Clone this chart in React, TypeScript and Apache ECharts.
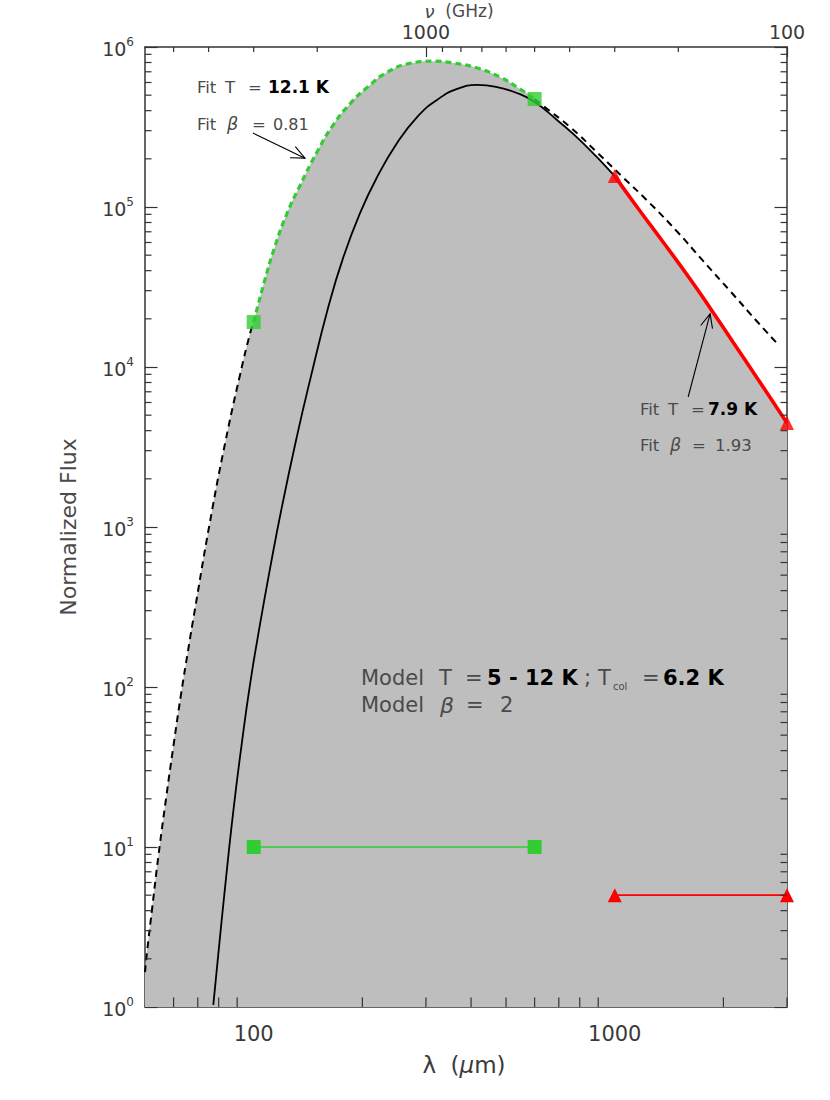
import React, { useEffect, useRef } from 'react';
import * as echarts from 'echarts';

const FONT = '"DejaVu Sans", "Liberation Sans", sans-serif';
const TXT = '#3a3a3a';
const NTXT = '#4a4a4a';

// axis ranges
const X_MIN = 50;
const X_MAX = 3000;
const Y_MIN = 1;
const Y_MAX = 1e6;
const NU_MIN = 100;
const NU_MAX = 6000;

// curves: [wavelength (um), normalized flux]
const fitLeftCurve: number[][] = [
  [50, 1.65], [50.6, 2.16], [52.3, 4.09], [54.5, 8.9], [57.2, 20.2], [60.0, 43.5],
  [62.9, 89.7], [65.8, 169], [68.8, 309], [75.7, 1082], [83.3, 3325], [91.7, 8979],
  [97.7, 16200], [100, 19100],
];
const fitGreenCurve: number[][] = [
  [100, 19100], [106.8, 33500], [114.6, 57100], [123.7, 91100], [134.4, 136200],
  [149.8, 221000], [165.9, 325000], [184.9, 442000], [206.1, 558000], [234, 695000],
  [271, 790000], [314, 815000], [357, 794000], [416, 739000], [481, 649000],
  [536, 562000], [600, 473000],
];
const fitRightCurve: number[][] = [
  [600, 473000], [629, 434000], [752, 316000], [894, 219000], [1055, 152900],
  [1253, 105200], [1488, 70300], [1757, 46000], [2087, 29850], [2479, 19250],
  [2834, 13820],
];
const modelCurve: number[][] = [
  [77.3, 1.03], [79.8, 2.14], [83.3, 5.57], [87.8, 16.7], [92.7, 44.5], [97.7, 104],
  [104.1, 246], [111, 551], [119.6, 1322], [131.6, 3646], [143.3, 8306], [161, 23800],
  [176.8, 47900], [197, 91500], [219.6, 153600], [249.5, 251000], [283.5, 365000],
  [322, 467000], [366, 547000], [416, 579000], [472, 562000], [536, 516000],
  [600, 453000], [692, 350000], [817, 251000], [1000, 156000],
];
const redFitCurve: number[][] = [
  [1000, 156000], [1153, 100000], [1361, 60400], [1617, 35500], [1837, 23400],
  [2127, 14300], [2479, 8540], [3000, 4467],
];
const greenPoints: number[][] = [[100, 19100], [600, 473000]];
const redPoints: number[][] = [[1000, 156000], [3000, 4467]];
const greenRange: number[][] = [[100, 10], [600, 10]];
const redRange: number[][] = [[1000, 5], [3000, 5]];
// arrows: [tail lambda, tail flux, tip lambda, tip flux]
const arrows: number[][] = [
  [99.5, 290000, 138.7, 202000],
  [1597, 6494, 1837, 21500],
];

// tick values
const lamMinor = [60, 70, 80, 90, 200, 300, 400, 500, 600, 700, 800, 900, 2000, 3000];
const nuMinor = [200, 300, 400, 500, 600, 700, 800, 900, 2000, 3000, 4000, 5000];
const mantissas = [2, 3, 4, 5, 6, 7, 8, 9];
const decades = [1, 10, 100, 1000, 10000, 100000];

export default function App() {
  const ref = useRef<HTMLDivElement>(null);
  useEffect(() => {
    document.body.style.margin = '0';
    if (!ref.current) return;
    const chart = echarts.init(ref.current, undefined, { renderer: 'svg' });

    const fluxMinor: number[] = [];
    decades.forEach((d) => mantissas.forEach((m) => fluxMinor.push(m * d)));

    const envelope = [
      ...fitLeftCurve,
      ...fitGreenCurve.slice(1),
      ...modelCurve.filter((p) => p[0] > 600 && p[0] < 1000),
      ...redFitCurve,
    ];

    const tickStyle = { stroke: '#333', lineWidth: 1.2 };
    const mkTick = (edge: string, len: number) => (params: any, api: any) => {
      let p: number[];
      let q: number[];
      if (edge === 'bottom') {
        p = api.coord([api.value(0), Y_MIN]);
        q = [p[0], p[1] - len];
      } else if (edge === 'top') {
        p = api.coord([api.value(0), Y_MAX]);
        q = [p[0], p[1] + len];
      } else if (edge === 'left') {
        p = api.coord([X_MIN, api.value(1)]);
        q = [p[0] + len, p[1]];
      } else {
        p = api.coord([X_MAX, api.value(1)]);
        q = [p[0] - len, p[1]];
      }
      return { type: 'line', shape: { x1: p[0], y1: p[1], x2: q[0], y2: q[1] }, style: tickStyle };
    };

    const arrowRender = (params: any, api: any) => {
      const a = api.coord([api.value(0), api.value(1)]);
      const b = api.coord([api.value(2), api.value(3)]);
      const ang = Math.atan2(b[1] - a[1], b[0] - a[0]);
      const L = 15;
      const sp = 0.42;
      const h1 = [b[0] - L * Math.cos(ang - sp), b[1] - L * Math.sin(ang - sp)];
      const h2 = [b[0] - L * Math.cos(ang + sp), b[1] - L * Math.sin(ang + sp)];
      const st = { stroke: '#000', lineWidth: 1.1, fill: 'none' };
      return {
        type: 'group',
        children: [
          { type: 'line', shape: { x1: a[0], y1: a[1], x2: b[0], y2: b[1] }, style: st },
          { type: 'polyline', shape: { points: [h1, b, h2] }, style: st },
        ],
      };
    };

    const axisLine = { show: true, lineStyle: { color: '#333', width: 1.5 } };

    type Kind = 'n' | 'b' | 'i';
    const piece = (x: number, y: number, text: string, kind: Kind, size: number) => ({
      type: 'text', x, y, z: 10, silent: true,
      style: {
        text, x: 0, y: 0, align: 'left', verticalAlign: 'middle',
        fontSize: size, fontFamily: FONT,
        fontWeight: kind === 'b' ? 'bold' : 'normal',
        fontStyle: kind === 'i' ? 'italic' : 'normal',
        fill: kind === 'b' ? '#000' : NTXT,
      },
    });

    const option: any = {
      animation: false,
      grid: { left: 145, right: 43, top: 47, bottom: 93, containLabel: false },
      xAxis: [
        {
          type: 'log', logBase: 10, min: X_MIN, max: X_MAX, position: 'bottom',
          axisLine, splitLine: { show: false },
          axisTick: { show: true, inside: true, length: 19, lineStyle: { color: '#333', width: 1.2 } },
          axisLabel: {
            showMinLabel: false, showMaxLabel: false, margin: 16, fontSize: 21,
            fontFamily: FONT, color: TXT, formatter: (v: number) => String(Math.round(v)),
          },
        },
        {
          type: 'log', logBase: 10, min: NU_MIN, max: NU_MAX, position: 'top', inverse: true,
          axisLine, splitLine: { show: false },
          axisTick: { show: true, inside: true, length: 10, lineStyle: { color: '#333', width: 1.2 } },
          axisLabel: {
            showMinLabel: true, showMaxLabel: false, margin: 6, fontSize: 19,
            fontFamily: FONT, color: TXT, formatter: (v: number) => String(Math.round(v)),
          },
        },
      ],
      yAxis: [
        {
          type: 'log', logBase: 10, min: Y_MIN, max: Y_MAX, position: 'left',
          axisLine, splitLine: { show: false },
          axisTick: { show: true, inside: true, length: 12.5, lineStyle: { color: '#333', width: 1.2 } },
          axisLabel: {
            margin: 11,
            formatter: (v: number) => '{b|10}{s|' + Math.round(Math.log10(v)) + '}',
            rich: {
              b: { fontSize: 19, fontFamily: FONT, color: TXT, lineHeight: 22, verticalAlign: 'bottom' },
              s: { fontSize: 12, fontFamily: FONT, color: TXT, lineHeight: 12, verticalAlign: 'top' },
            },
          },
        },
        {
          type: 'log', logBase: 10, min: Y_MIN, max: Y_MAX, position: 'right',
          axisLine, splitLine: { show: false },
          axisTick: { show: true, inside: true, length: 12.5, lineStyle: { color: '#333', width: 1.2 } },
          axisLabel: { show: false },
        },
      ],
      series: [
        {
          type: 'line', data: envelope, symbol: 'none', smooth: 0.5, z: 1,
          lineStyle: { width: 0, opacity: 0 },
          areaStyle: { color: '#bebebe', opacity: 1, origin: 'start' },
        },
        {
          type: 'line', data: modelCurve, symbol: 'none', smooth: 0.5, z: 3,
          lineStyle: { color: '#000', width: 1.8 },
        },
        {
          type: 'line', data: fitLeftCurve, symbol: 'none', smooth: 0.5, z: 3,
          lineStyle: { color: '#000', width: 2, type: [7, 5] },
        },
        {
          type: 'line', data: fitRightCurve, symbol: 'none', smooth: 0.5, z: 3,
          lineStyle: { color: '#000', width: 2, type: [7, 5] },
        },
        {
          type: 'line', data: fitGreenCurve, symbol: 'none', smooth: 0.5, z: 4,
          lineStyle: { color: '#32cd32', width: 3.2, type: [6, 4] },
        },
        {
          type: 'line', data: redFitCurve, symbol: 'none', smooth: 0.5, z: 4,
          lineStyle: { color: '#ff0000', width: 3.6 },
        },
        {
          type: 'line', data: greenRange, symbol: 'rect', symbolSize: 14, showSymbol: true, z: 5,
          itemStyle: { color: '#32cd32' }, lineStyle: { color: '#32cd32', width: 1.6 },
        },
        {
          type: 'line', data: redRange, symbol: 'triangle', symbolSize: 14, showSymbol: true, z: 5,
          itemStyle: { color: '#ff0000' }, lineStyle: { color: '#ff0000', width: 1.8 },
        },
        {
          type: 'scatter', data: greenPoints, symbol: 'rect', symbolSize: 14, z: 6,
          itemStyle: { color: '#32cd32' },
        },
        {
          type: 'scatter', data: redPoints, symbol: 'triangle', symbolSize: 14, z: 6,
          itemStyle: { color: '#ff0000' },
        },
        { type: 'custom', data: arrows, renderItem: arrowRender, z: 7, silent: true },
        {
          type: 'custom', data: lamMinor.map((v) => [v, Y_MIN]), renderItem: mkTick('bottom', 9.5),
          z: 8, silent: true,
        },
        {
          type: 'custom', xAxisIndex: 1, data: nuMinor.map((v) => [v, Y_MAX]), renderItem: mkTick('top', 5),
          z: 8, silent: true,
        },
        {
          type: 'custom', data: fluxMinor.map((v) => [X_MIN, v]), renderItem: mkTick('left', 6.5),
          z: 8, silent: true,
        },
        {
          type: 'custom', data: fluxMinor.map((v) => [X_MAX, v]), renderItem: mkTick('right', 6.5),
          z: 8, silent: true,
        },
      ],
      graphic: [
        {
          type: 'text', x: 68, y: 527, rotation: Math.PI / 2, z: 10,
          style: { text: 'Normalized Flux', fontSize: 22, fontFamily: FONT, fill: NTXT, align: 'center', verticalAlign: 'middle' },
        },
        {
          type: 'text', x: 464, y: 1065, z: 10,
          style: {
            text: '{n|λ  (}{i|μ}{n|m)}', align: 'center', verticalAlign: 'middle',
            rich: {
              n: { fontSize: 23, fontFamily: FONT, fill: TXT },
              i: { fontSize: 23, fontFamily: FONT, fontStyle: 'italic', fill: TXT },
            },
          },
        },
        {
          type: 'text', x: 459, y: 11, z: 10,
          style: {
            text: '{i|ν}{n|  (GHz)}', align: 'center', verticalAlign: 'middle',
            rich: {
              n: { fontSize: 17, fontFamily: FONT, fill: NTXT },
              i: { fontSize: 18, fontFamily: FONT, fontStyle: 'italic', fill: NTXT },
            },
          },
        },
        // Fit T = 12.1 K / Fit beta = 0.81
        piece(197, 87, 'Fit', 'n', 16.5),
        piece(225, 87, 'T', 'n', 16.5),
        piece(248, 87, '=', 'n', 16.5),
        piece(268, 87, '12.1 K', 'b', 17),
        piece(197, 124, 'Fit', 'n', 16.5),
        piece(227, 124, 'β', 'i', 17.5),
        piece(252, 124, '=', 'n', 16.5),
        piece(273, 124, '0.81', 'n', 16),
        // Fit T = 7.9 K / Fit beta = 1.93
        piece(640, 409, 'Fit', 'n', 16.5),
        piece(668, 409, 'T', 'n', 16.5),
        piece(691, 409, '=', 'n', 16.5),
        piece(708, 409, '7.9 K', 'b', 17),
        piece(640, 445, 'Fit', 'n', 16.5),
        piece(670, 445, 'β', 'i', 17.5),
        piece(692, 445, '=', 'n', 16.5),
        piece(715, 445, '1.93', 'n', 16.5),
        // Model text
        piece(361, 678, 'Model', 'n', 21),
        piece(439, 678, 'T', 'n', 21),
        piece(465, 678, '=', 'n', 21),
        piece(487, 678, '5 - 12 K', 'b', 21),
        piece(584, 678, ';', 'n', 21),
        piece(598, 678, 'T', 'n', 21),
        piece(613, 686, 'col', 'n', 10),
        piece(642, 678, '=', 'n', 21),
        piece(663, 678, '6.2 K', 'b', 21),
        piece(361, 705, 'Model', 'n', 21),
        piece(440, 705, 'β', 'i', 22),
        piece(466, 705, '=', 'n', 21),
        piece(500, 705, '2', 'n', 21),
      ],
    };
    chart.setOption(option);
    return () => chart.dispose();
  }, []);
  return <div ref={ref} style={{ width: 830, height: 1100 }} />;
}
